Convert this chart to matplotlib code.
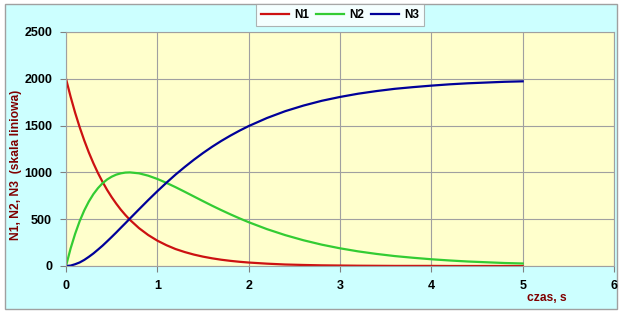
import matplotlib.pyplot as plt
from matplotlib.patches import Rectangle

# time points (s)
czas = [0, 0.05, 0.1, 0.15, 0.2, 0.25, 0.3, 0.35, 0.4, 0.45,
        0.5, 0.55, 0.6, 0.65, 0.7, 0.8, 0.9,
        1.0, 1.1, 1.2, 1.3, 1.4, 1.5, 1.6, 1.7, 1.8, 1.9,
        2.0, 2.2, 2.4, 2.6, 2.8, 3.0, 3.2, 3.4, 3.6, 3.8,
        4.0, 4.2, 4.4, 4.6, 4.8, 5.0]

n1 = [2000, 1810, 1637, 1482, 1341, 1213, 1098, 993, 899, 813,
      736, 666, 602, 545, 493, 404, 331,
      271, 222, 181, 149, 122, 100, 82, 67, 55, 45,
      37, 25, 16, 11, 7, 5, 3, 2, 1, 1,
      1, 0, 0, 0, 0, 0]

n2 = [0, 186, 344, 480, 594, 689, 768, 832, 884, 924,
      954, 976, 990, 998, 1000, 990, 965,
      930, 888, 842, 793, 743, 693, 644, 597, 552, 509,
      468, 394, 330, 275, 228, 189, 156, 129, 106, 88,
      72, 59, 48, 40, 32, 27]

n3 = [0, 4, 19, 38, 65, 98, 134, 175, 217, 263,
      310, 358, 408, 457, 507, 606, 704,
      799, 890, 977, 1058, 1135, 1207, 1274, 1336, 1393, 1446,
      1495, 1581, 1654, 1714, 1765, 1806, 1841, 1869, 1893, 1911,
      1927, 1941, 1952, 1960, 1968, 1973]

plt.rcParams['font.family'] = ['Liberation Sans', 'DejaVu Sans']

fig = plt.figure(figsize=(6.2, 3.13), dpi=100)
fig.patch.set_facecolor('white')
# chart area background with thin gray frame
fig.patches.append(Rectangle((5 / 620, 4 / 313), 612 / 620, 305 / 313,
                             transform=fig.transFigure, facecolor='#CCFFFF',
                             edgecolor='#A0A0A0', linewidth=1, zorder=-5))

ax = fig.add_axes([66 / 620, 47 / 313, 548 / 620, 234 / 313])
ax.set_zorder(2)
ax.set_facecolor('#FFFFCC')

ax.plot(czas, n1, color='#CC1111', lw=1.6, label='N1')
ax.plot(czas, n2, color='#33CC33', lw=1.6, label='N2')
ax.plot(czas, n3, color='#000099', lw=1.6, label='N3')

ax.set_xlim(0, 6)
ax.set_ylim(0, 2500)
ax.set_xticks(range(0, 7))
ax.set_yticks(range(0, 2501, 500))
ax.grid(True, color='#A0A0A0', linewidth=0.8)
ax.set_axisbelow(True)
for s in ax.spines.values():
    s.set_color('#A0A0A0')
    s.set_linewidth(0.8)
ax.tick_params(axis='both', direction='out', length=4, color='#808080',
               labelsize=9)
ax.tick_params(axis='x', pad=6)
ax.tick_params(axis='y', pad=6)
for lab in ax.get_xticklabels() + ax.get_yticklabels():
    lab.set_fontweight('bold')

fig.text(16 / 620, 148 / 313, 'N1, N2, N3  (skala liniowa)', rotation=90,
         ha='center', va='center', color='#800000', fontsize=8.7,
         fontweight='bold')
fig.text(547 / 620, 15 / 313, 'czas, s', ha='center', va='center',
         color='#800000', fontsize=8.7, fontweight='bold')

leg = fig.legend(loc='center', bbox_to_anchor=(340 / 620, 298 / 313), ncol=3,
                 frameon=True, fancybox=False, handlelength=2.4,
                 handletextpad=0.4, columnspacing=0.6, borderpad=0.4,
                 prop={'weight': 'bold', 'size': 8.5})
leg.get_frame().set_edgecolor('#A0A0A0')
leg.get_frame().set_linewidth(0.8)
leg.set_zorder(3)

fig.savefig('out.png', dpi=100, facecolor=fig.get_facecolor())
